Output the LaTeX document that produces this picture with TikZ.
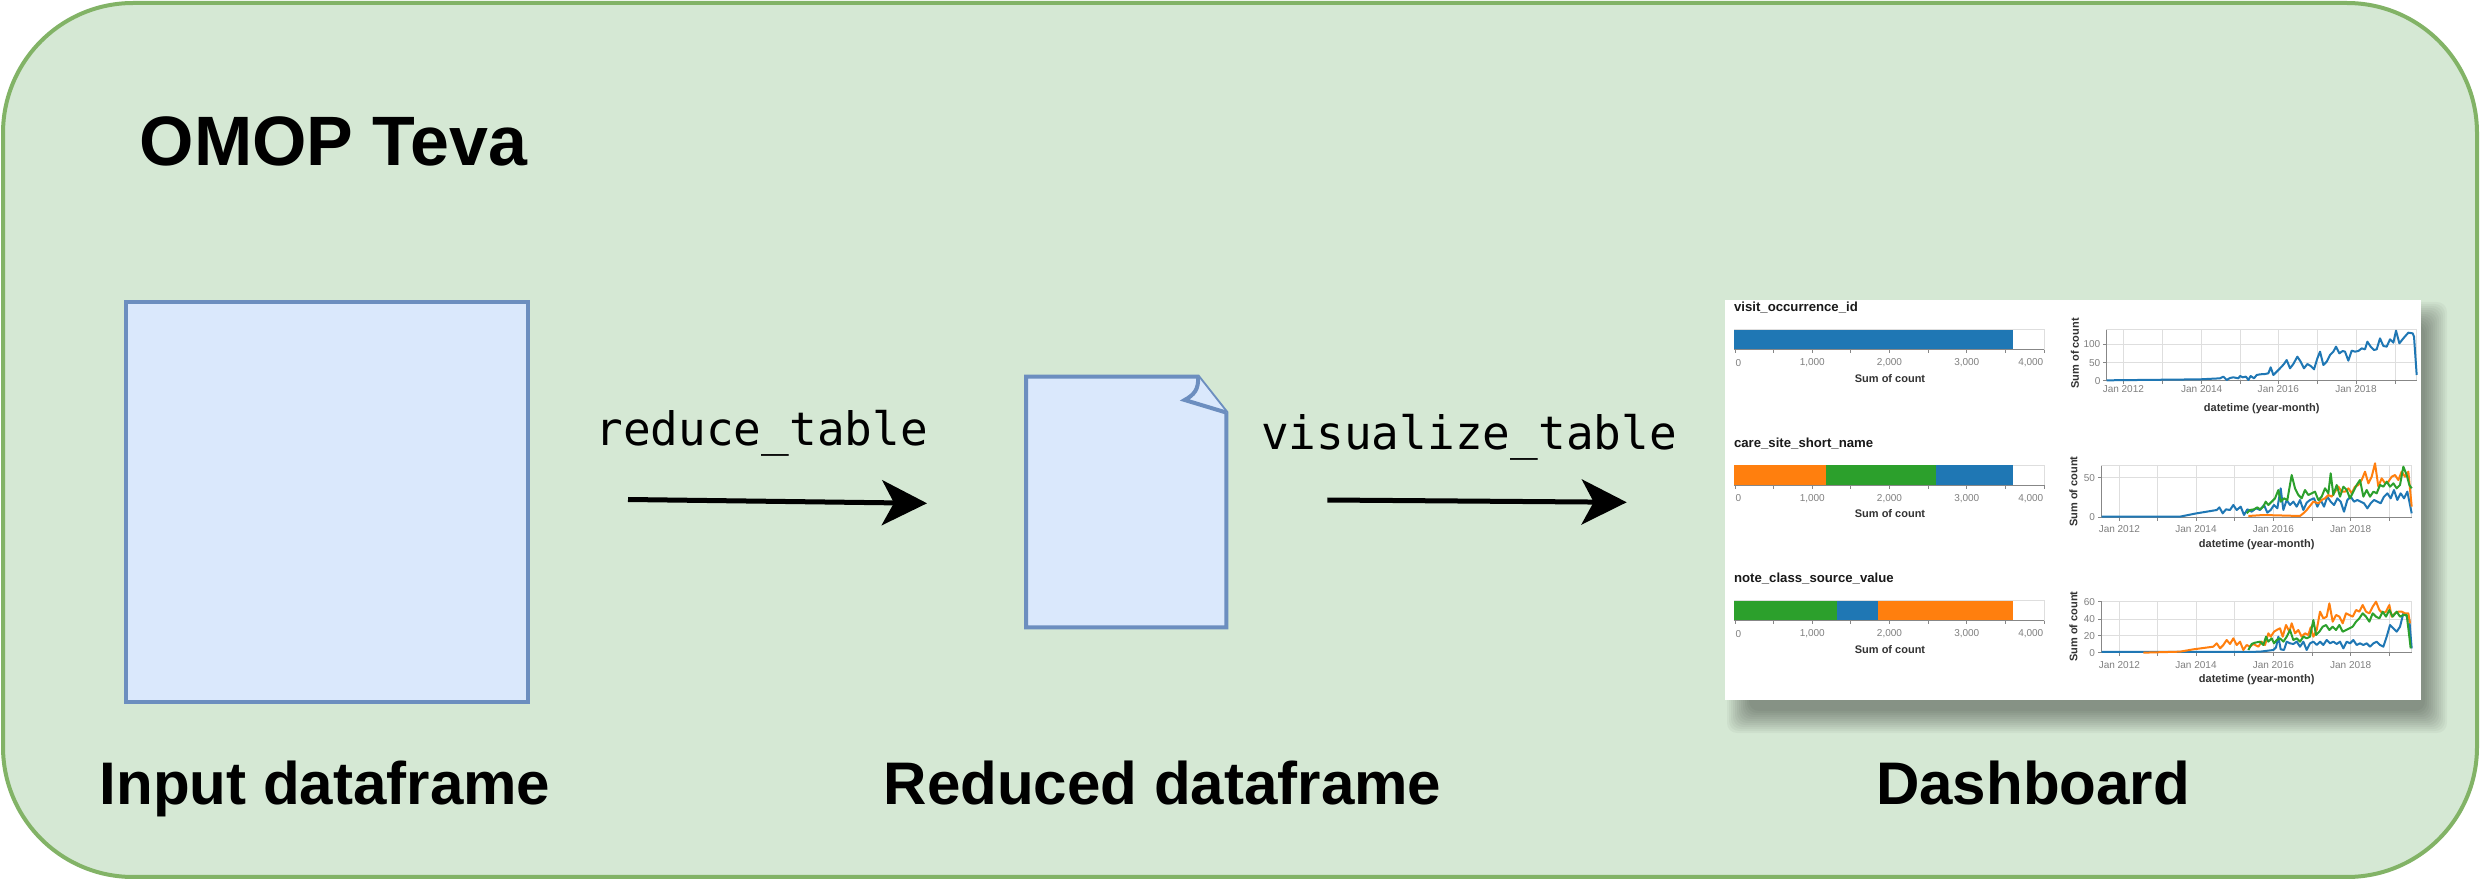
\documentclass[tikz,border=0pt]{standalone}
\usepackage{fontspec}
\setmainfont{Liberation Sans}
\newfontfamily\codefont{DejaVu Sans Mono}
\usepackage{tikz}
\usetikzlibrary{arrows.meta}
\definecolor{boxgreen}{HTML}{D5E8D4}
\definecolor{linegreen}{HTML}{82B366}
\definecolor{boxblue}{HTML}{DAE8FC}
\definecolor{lineblue}{HTML}{6C8EBF}
\definecolor{vblue}{HTML}{1F77B4}
\definecolor{vorange}{HTML}{FF7F0E}
\definecolor{vgreen}{HTML}{2CA02C}
\tikzset{
	stagelabel/.style={font=\bfseries\fontsize{17.1}{19}\selectfont,inner sep=0pt,anchor=base},
	codelabel/.style={font=\codefont\fontsize{13.1}{15}\selectfont,inner sep=0pt,anchor=base},
	flow/.style={line width=0.5mm,-{Stealth[length=4.5mm,width=4.5mm,inset=1.2mm]}},
	databox/.style={draw=lineblue,fill=boxblue,line width=0.4mm},
	gridline/.style={draw=black!13,line width=0.1mm},
	axisline/.style={draw=black!47,line width=0.1mm},
	ticklab/.style={font=\fontsize{2.85}{3}\selectfont,text=black!50,inner sep=0pt},
	axtitle/.style={font=\bfseries\fontsize{3.13}{3.5}\selectfont,text=black!80,inner sep=0pt},
	bartitle/.style={font=\bfseries\fontsize{3.75}{4}\selectfont,text=black!90,inner sep=0pt},
	series/.style={line width=0.2mm,line join=round},
}

\begin{document}
\begin{tikzpicture}[x=0.1mm,y=-0.1mm]
	\useasboundingbox (0,0) rectangle (2480,880);
	\node[draw=linegreen,fill=boxgreen,line width=0.4mm,rounded corners=13mm,minimum width=247.4mm,minimum height=87.4mm,inner sep=0pt] (group) at (1240,440) {};
	\node[font=\bfseries\fontsize{19.9}{22}\selectfont,inner sep=0pt,anchor=base west] (teva) at (139,166) {OMOP Teva};
	% input dataframe
	\node[databox,minimum width=40.2mm,minimum height=40mm,inner sep=0pt] (input) at (327,502) {};
	\node[stagelabel] (input label) at (325,804) {Input dataframe};
	% reduced dataframe (page with folded corner)
	\node[minimum width=19.9mm,minimum height=24.94mm,inner sep=0pt] (reduced) at (1126.2,502) {};
	\draw[databox] (reduced.north west) -- ([xshift=-2.84mm]reduced.north east) -- ([yshift=-3.6mm]reduced.north east) -- (reduced.south east) -- (reduced.south west) -- cycle;
	\draw[databox] ([xshift=-2.84mm]reduced.north east) .. controls +(0.1mm,-1.3mm) and +(0.9mm,0.5mm) .. ([xshift=-4.17mm,yshift=-2.34mm]reduced.north east) -- ([yshift=-3.6mm]reduced.north east);
	\node[stagelabel] (reduced label) at (1162.5,804) {Reduced dataframe};
	% arrows
	\coordinate (reduce from) at (628,499.5);
	\coordinate (reduce to) at (927,503.3);
	\draw[flow] (reduce from) -- (reduce to);
	\node[codelabel] (reduce) at (761.6,446) {reduce\_table};
	\coordinate (visualize from) at (1327.3,500);
	\coordinate (visualize to) at (1626.7,502.3);
	\draw[flow] (visualize from) -- (visualize to);
	\node[codelabel] (visualize) at (1469,450) {visualize\_table};
	% dashboard
	\foreach \s in {1,3,...,23}
		\fill[black,opacity=0.035,rounded corners=1mm] (1750-\s,325-\s) rectangle (2424+\s,710+\s);
	\node[fill=white,minimum width=69.6mm,minimum height=40mm,inner sep=0pt] (dash) at (2073,500) {};
	\node[stagelabel] (dash label) at (2033,804) {Dashboard};
	% bar charts
	\begin{scope}[shift={(1720,290)},scale=1/3]
		\foreach \dy in {0,406.5,813}
			\draw[gridline] (43,120+\dy) rectangle (972,180+\dy);
		\fill[vblue] (43,120) rectangle (878,180);
		\fill[vorange] (43,526.5) rectangle (319,586.5);
		\fill[vgreen] (319,526.5) rectangle (647,586.5);
		\fill[vblue] (647,526.5) rectangle (878,586.5);
		\fill[vgreen] (43,933) rectangle (352,993);
		\fill[vblue] (352,933) rectangle (474,993);
		\fill[vorange] (474,933) rectangle (878,993);
		\foreach \dy in {0,406.5,813} {
			\draw[axisline] (43,180+\dy) -- (972,180+\dy);
			\foreach \i in {0,...,8}
				\draw[axisline] (45+115.875*\i,180+\dy) -- ++(0,10);
			\node[ticklab,anchor=west] at (45,218+\dy) {0};
			\node[ticklab] at (276.8,218+\dy) {1,000};
			\node[ticklab] at (508.5,218+\dy) {2,000};
			\node[ticklab] at (740.3,218+\dy) {3,000};
			\node[ticklab,anchor=east] at (972,218+\dy) {4,000};
			\node[axtitle] at (510,265+\dy) {Sum of count};
		}
		\node[bartitle,anchor=base west] (visit) at (40,65) {visit\_occurrence\_id};
		\node[bartitle,anchor=base west] (care) at (40,471.5) {care\_site\_short\_name};
		\node[bartitle,anchor=base west] (note) at (40,878) {note\_class\_source\_value};
	\end{scope}
	% line chart 1
	\begin{scope}[shift={(2060,290)},scale=1/3]
		\foreach \gx in {190,307,425,540,655,772,888,1005}
			\draw[gridline] (\gx,120) -- (\gx,272);
		\foreach \gy in {163,218}
			\draw[gridline] (140,\gy) -- (1070,\gy);
		\draw[gridline] (140,120) rectangle (1070,272);
		\draw[axisline] (140,120) -- (140,272) -- (1070,272);
		\foreach \gx in {190,307,425,540,655,772,888,1005}
			\draw[axisline] (\gx,272) -- ++(0,10);
		\foreach \gy/\v in {163/100,218/50,272/0} {
			\draw[axisline] (140,\gy) -- ++(-10,0);
			\node[ticklab,anchor=east] at (123,\gy) {\v};
		}
		\foreach \gx/\yr in {190/2012,425/2014,655/2016,888/2018}
			\node[ticklab] at (\gx,296) {Jan \yr};
		\node[axtitle] at (605,357) {datetime (year-month)};
		\node[axtitle,rotate=90] at (45,190) {Sum of count};
		\draw[series,vblue] (140,271) -- (420,268) -- (480,265) -- (490,260) -- (500,270) -- (510,264) -- (520,262) -- (535,265) -- (540,258) -- (548,262) -- (558,260) -- (565,270) -- (572,258) -- (582,265) -- (590,255) -- (600,253) -- (615,252) -- (625,250) -- (632,232) -- (640,255) -- (650,245) -- (660,235) -- (672,222) -- (680,210) -- (690,235) -- (700,222) -- (712,200) -- (722,215) -- (732,235) -- (742,222) -- (752,228) -- (762,238) -- (772,205) -- (780,185) -- (790,225) -- (800,215) -- (810,195) -- (820,185) -- (828,170) -- (838,190) -- (848,183) -- (855,185) -- (865,212) -- (875,182) -- (885,185) -- (895,183) -- (905,175) -- (915,178) -- (922,155) -- (932,170) -- (942,180) -- (950,178) -- (960,145) -- (970,168) -- (980,170) -- (990,148) -- (1000,158) -- (1008,122) -- (1018,160) -- (1030,145) -- (1045,128) -- (1058,130) -- (1062,140) -- (1070,255);
	\end{scope}
	% line chart 2
	\begin{scope}[shift={(2060,430)},scale=1/3]
		\foreach \gx in {178,293,408,523,640,756,872,987}
			\draw[gridline] (\gx,108) -- (\gx,262);
		\draw[gridline] (125,143) -- (1055,143);
		\draw[gridline] (125,108) rectangle (1055,262);
		\draw[axisline] (125,108) -- (125,262) -- (1055,262);
		\foreach \gx in {178,293,408,523,640,756,872,987}
			\draw[axisline] (\gx,262) -- ++(0,10);
		\foreach \gy/\v in {143/50,262/0} {
			\draw[axisline] (125,\gy) -- ++(-10,0);
			\node[ticklab,anchor=east] at (107,\gy) {\v};
		}
		\foreach \gx/\yr in {178/2012,408/2014,640/2016,872/2018}
			\node[ticklab] at (\gx,298) {Jan \yr};
		\node[axtitle] at (590,345) {datetime (year-month)};
		\node[axtitle,rotate=90] at (40,185) {Sum of count};
		\draw[series,vblue] (125,260) -- (360,260) -- (410,250) -- (470,240) -- (478,232) -- (488,250) -- (498,238) -- (510,240) -- (520,225) -- (530,240) -- (542,230) -- (552,255) -- (562,238) -- (575,245) -- (588,235) -- (600,240) -- (612,225) -- (622,248) -- (632,240) -- (642,225) -- (652,235) -- (662,175) -- (670,240) -- (680,210) -- (690,225) -- (700,215) -- (710,230) -- (720,210) -- (730,240) -- (740,218) -- (750,210) -- (762,205) -- (772,230) -- (782,210) -- (792,230) -- (802,200) -- (812,215) -- (822,225) -- (832,205) -- (842,215) -- (852,245) -- (862,210) -- (872,200) -- (882,215) -- (892,210) -- (902,215) -- (912,220) -- (922,235) -- (932,220) -- (942,210) -- (952,215) -- (962,220) -- (972,200) -- (982,190) -- (992,205) -- (1002,180) -- (1012,210) -- (1022,190) -- (1032,205) -- (1042,185) -- (1055,250);
		\draw[series,vorange] (565,258) -- (610,255) -- (720,258) -- (730,250) -- (740,240) -- (760,215) -- (775,220) -- (785,210) -- (795,205) -- (805,195) -- (815,200) -- (825,185) -- (835,170) -- (845,185) -- (855,185) -- (865,175) -- (875,190) -- (885,170) -- (895,165) -- (905,150) -- (915,125) -- (925,160) -- (935,140) -- (945,100) -- (955,170) -- (965,145) -- (975,160) -- (985,155) -- (995,140) -- (1005,135) -- (1015,150) -- (1025,125) -- (1035,140) -- (1045,125) -- (1055,230);
		\draw[series,vgreen] (560,250) -- (570,240) -- (582,238) -- (592,232) -- (600,238) -- (610,230) -- (617,215) -- (625,225) -- (635,215) -- (645,205) -- (655,180) -- (662,215) -- (672,205) -- (682,210) -- (695,135) -- (705,175) -- (715,195) -- (725,205) -- (735,180) -- (745,195) -- (755,190) -- (765,185) -- (775,210) -- (785,200) -- (795,175) -- (805,190) -- (812,130) -- (820,195) -- (830,165) -- (840,200) -- (850,170) -- (860,180) -- (870,205) -- (880,185) -- (890,165) -- (900,150) -- (910,200) -- (920,180) -- (930,200) -- (940,185) -- (950,190) -- (960,165) -- (970,170) -- (980,155) -- (990,170) -- (1000,160) -- (1010,175) -- (1020,165) -- (1030,110) -- (1040,135) -- (1048,165) -- (1055,175);
	\end{scope}
	% line chart 3
	\begin{scope}[shift={(2060,570)},scale=1/3]
		\foreach \gx in {178,293,408,523,640,756,872,987}
			\draw[gridline] (\gx,95) -- (\gx,248);
		\foreach \gy in {148,198}
			\draw[gridline] (125,\gy) -- (1055,\gy);
		\draw[gridline] (125,95) rectangle (1055,248);
		\draw[axisline] (125,95) -- (125,248) -- (1055,248);
		\foreach \gx in {178,293,408,523,640,756,872,987}
			\draw[axisline] (\gx,248) -- ++(0,10);
		\foreach \gy/\v in {95/60,148/40,198/20,248/0} {
			\draw[axisline] (125,\gy) -- ++(-10,0);
			\node[ticklab,anchor=east] at (107,\gy) {\v};
		}
		\foreach \gx/\yr in {178/2012,408/2014,640/2016,872/2018}
			\node[ticklab] at (\gx,285) {Jan \yr};
		\node[axtitle] at (590,330) {datetime (year-month)};
		\node[axtitle,rotate=90] at (40,170) {Sum of count};
		\draw[series,vblue] (125,246) -- (550,246) -- (600,245) -- (640,240) -- (648,232) -- (655,200) -- (662,238) -- (672,240) -- (680,215) -- (690,220) -- (700,222) -- (710,215) -- (720,230) -- (730,215) -- (740,240) -- (750,220) -- (760,215) -- (770,225) -- (780,215) -- (790,225) -- (800,210) -- (810,220) -- (820,215) -- (830,222) -- (840,215) -- (850,235) -- (860,215) -- (870,220) -- (880,210) -- (890,225) -- (900,220) -- (910,225) -- (920,220) -- (930,230) -- (940,220) -- (950,215) -- (960,225) -- (970,230) -- (980,200) -- (990,165) -- (1000,175) -- (1010,185) -- (1020,170) -- (1030,130) -- (1040,138) -- (1048,150) -- (1055,235);
		\draw[series,vorange] (250,248) -- (360,245) -- (400,238) -- (460,230) -- (470,220) -- (480,235) -- (490,225) -- (500,210) -- (510,222) -- (520,205) -- (530,225) -- (540,215) -- (550,240) -- (560,225) -- (570,230) -- (580,222) -- (595,230) -- (605,215) -- (615,225) -- (625,190) -- (632,200) -- (642,185) -- (650,180) -- (660,175) -- (668,200) -- (678,165) -- (688,185) -- (695,160) -- (705,190) -- (715,180) -- (725,200) -- (735,190) -- (745,195) -- (752,172) -- (760,200) -- (770,180) -- (780,125) -- (790,145) -- (800,140) -- (808,100) -- (818,155) -- (828,135) -- (838,140) -- (848,160) -- (858,130) -- (868,135) -- (878,140) -- (888,120) -- (898,125) -- (908,105) -- (918,125) -- (928,130) -- (938,110) -- (948,95) -- (958,120) -- (968,130) -- (978,125) -- (988,105) -- (995,140) -- (1005,130) -- (1015,125) -- (1025,125) -- (1035,130) -- (1045,130) -- (1050,160);
		\draw[series,vgreen] (565,240) -- (575,222) -- (585,218) -- (600,215) -- (610,225) -- (618,200) -- (625,215) -- (635,205) -- (642,220) -- (650,210) -- (660,205) -- (670,215) -- (680,200) -- (690,180) -- (700,210) -- (710,205) -- (720,215) -- (730,200) -- (740,205) -- (750,200) -- (760,150) -- (768,195) -- (778,185) -- (788,170) -- (798,165) -- (808,180) -- (818,170) -- (828,180) -- (838,165) -- (848,185) -- (858,180) -- (868,175) -- (878,170) -- (888,155) -- (898,145) -- (908,130) -- (918,140) -- (928,155) -- (938,130) -- (948,140) -- (958,145) -- (968,125) -- (978,140) -- (988,120) -- (998,140) -- (1010,125) -- (1020,140) -- (1030,135) -- (1040,135) -- (1045,175) -- (1052,235);
	\end{scope}
\end{tikzpicture}
\end{document}
